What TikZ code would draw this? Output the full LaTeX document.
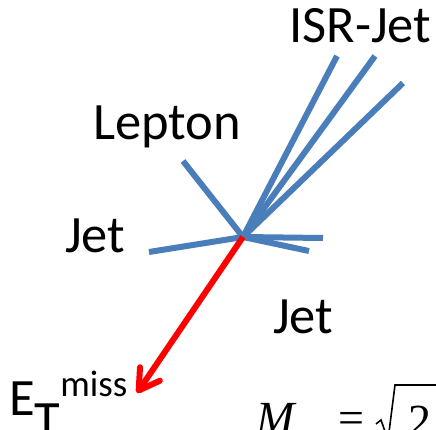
\documentclass[tikz,border=0pt]{standalone}
\usepackage{fontspec}
\setmainfont{Carlito}
\newfontfamily\tnr{Liberation Serif}
\usetikzlibrary{arrows.meta}
\definecolor{jetblue}{RGB}{74,126,187}
\definecolor{metred}{RGB}{255,0,0}
\begin{document}
\begin{tikzpicture}[x=1pt,y=-1pt,
  track/.style={draw=jetblue,line width=6pt},
  met/.style={draw=metred,line width=6pt,-{Straight Barb[length=20pt,width=24pt,round]}},
  lbl/.style={inner sep=0pt,anchor=base west,font=\fontsize{52.5}{58}\selectfont}]
\useasboundingbox (0,0) rectangle (436,430);
\clip (0,0) rectangle (436,430);
% vertex and track ends
\coordinate (c) at (243,237);
\coordinate (lep) at (183,161);
\coordinate (jl) at (149,252);
\coordinate (jr1) at (323,238);
\coordinate (jr2) at (309,251);
\coordinate (isr1) at (337,56);
\coordinate (isr2) at (375,56);
\coordinate (isr3) at (403,83);
\coordinate (mettip) at (137,393);
% tracks
\draw[track] (c) -- (lep);
\draw[track] (c) -- (jl);
\draw[track] (c) -- (jr1);
\draw[track] (c) -- (jr2);
\draw[track] (c) -- (isr1);
\draw[track] (c) -- (isr2);
\draw[track] (c) -- (isr3);
\draw[met] (c) -- (mettip);
% labels
\node[lbl] (tisr) at (289,43) {ISR-Jet};
\node[lbl] (tlep) at (93,140) {Lepton};
\node[lbl] (tjl) at (65,253) {Jet};
\node[lbl] (tjr) at (273,333) {Jet};
\node[lbl] (tmet) at (9,415) {E\raisebox{-0.42em}{T}\raisebox{0.36em}{\fontsize{37}{40}\selectfont miss}};
% clipped formula
\node[inner sep=0pt,anchor=base west,font=\tnr\fontsize{46}{50}\selectfont] (fm) at (256,433) {\itshape M\hspace{44pt}\upshape=};
\draw[line width=1.6pt,line join=miter] (376,424) -- (381,420) -- (388,440) -- (395,385) -- (440,385);
\node[inner sep=0pt,anchor=base west,font=\tnr\fontsize{46}{50}\selectfont] (f2) at (408,436) {2};
\end{tikzpicture}
\end{document}
